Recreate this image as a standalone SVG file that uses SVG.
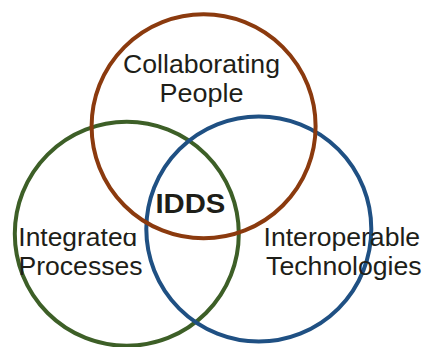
<svg xmlns="http://www.w3.org/2000/svg" width="423" height="347" viewBox="0 0 423 347">
  <defs>
    <style>
      .ring { fill: none; stroke-width: 4; }
      .label { font-family: "Liberation Sans", Arial, sans-serif; font-size: 26px; fill: #1e1e18; }
      .core { font-family: "Liberation Sans", Arial, sans-serif; font-size: 27px; font-weight: bold; fill: #1e1e18; }
    </style>
    <!-- trims the ascender of the final letter of "Integrated" -->
    <clipPath id="trim-d">
      <rect x="0" y="0" width="127" height="347"/>
      <rect x="127" y="233" width="296" height="114"/>
      <rect x="140" y="0" width="283" height="347"/>
    </clipPath>
  </defs>

  <g id="processes">
    <circle class="ring" cx="126.8" cy="233.8" r="112" stroke="#3d5f27"/>
    <g clip-path="url(#trim-d)">
      <text class="label" x="18.3" y="245.5" textLength="119" lengthAdjust="spacingAndGlyphs">Integrated</text>
    </g>
    <text class="label" x="18.5" y="275" textLength="124" lengthAdjust="spacingAndGlyphs">Processes</text>
  </g>

  <g id="technologies">
    <circle class="ring" cx="258.8" cy="229" r="112.5" stroke="#1f5083"/>
    <text class="label" x="263.6" y="245.7" textLength="156.5" lengthAdjust="spacingAndGlyphs">Interoperable</text>
    <text class="label" x="266.1" y="275" textLength="155.6" lengthAdjust="spacingAndGlyphs">Technologies</text>
  </g>

  <g id="people">
    <circle class="ring" cx="203.6" cy="126.3" r="112" stroke="#8b3a0e"/>
    <text class="label" x="201.5" y="72.8" text-anchor="middle" textLength="157" lengthAdjust="spacingAndGlyphs">Collaborating</text>
    <text class="label" x="201.5" y="101.5" text-anchor="middle" textLength="84" lengthAdjust="spacingAndGlyphs">People</text>
  </g>

  <g id="idds">
    <text class="core" x="190.4" y="212.5" text-anchor="middle" textLength="70" lengthAdjust="spacingAndGlyphs">IDDS</text>
  </g>

  <g id="connectors"/>
</svg>
